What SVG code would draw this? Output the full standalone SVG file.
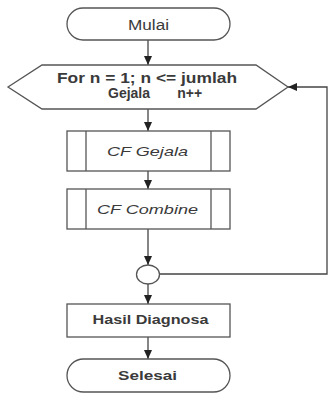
<svg xmlns="http://www.w3.org/2000/svg" width="330" height="394" viewBox="0 0 330 394">
<style>
.shape{fill:#fff;stroke:#555;stroke-width:1.3}
.conn{fill:none;stroke:#444;stroke-width:1.3}
text{font-family:"Liberation Sans",Arial,sans-serif;font-size:13px;fill:#3a3a3a}
.b{font-weight:bold}
.i{font-style:italic}
</style>
<defs>
<marker id="arr" markerWidth="10" markerHeight="10" refX="9" refY="5" orient="auto" markerUnits="userSpaceOnUse">
<path d="M0,1 L9,5 L0,9 Z" fill="#222"/>
</marker>
</defs>
<rect width="330" height="394" fill="#fff"/>
<g id="connectors">
<line class="conn" x1="148" y1="40" x2="148" y2="65" marker-end="url(#arr)"/>
<line class="conn" x1="148" y1="109" x2="148" y2="131" marker-end="url(#arr)"/>
<line class="conn" x1="148" y1="171" x2="148" y2="189" marker-end="url(#arr)"/>
<line class="conn" x1="148" y1="229" x2="148" y2="265" marker-end="url(#arr)"/>
<line class="conn" x1="148" y1="284" x2="148" y2="304" marker-end="url(#arr)"/>
<line class="conn" x1="148" y1="337" x2="148" y2="359" marker-end="url(#arr)"/>
<polyline class="conn" points="159.5,274 327,274 327,87 288,87" marker-end="url(#arr)"/>
</g>
<g id="mulai">
<rect class="shape" x="67" y="8" width="163" height="32" rx="16" ry="16"/>
<text x="148.5" y="30" text-anchor="middle" style="font-size:14px" textLength="41" lengthAdjust="spacingAndGlyphs">Mulai</text>
</g>
<g id="loop">
<polygon class="shape" points="8,87 42,65 256,65 288,87 256,109 42,109"/>
<text class="b" x="147" y="83" text-anchor="middle" style="font-size:14px" textLength="180" lengthAdjust="spacingAndGlyphs">For n = 1; n &lt;= jumlah</text>
<text class="b" x="108" y="98" style="font-size:14px" xml:space="preserve">Gejala       n++</text>
</g>
<g id="cf-gejala">
<rect class="shape" x="67" y="131" width="163" height="40"/>
<line class="shape" x1="86" y1="131" x2="86" y2="171"/>
<line class="shape" x1="211" y1="131" x2="211" y2="171"/>
<text class="i" x="147.5" y="156" text-anchor="middle" style="font-size:13.5px" textLength="81" lengthAdjust="spacingAndGlyphs">CF Gejala</text>
</g>
<g id="cf-combine">
<rect class="shape" x="67" y="189" width="163" height="40"/>
<line class="shape" x1="86" y1="189" x2="86" y2="229"/>
<line class="shape" x1="211" y1="189" x2="211" y2="229"/>
<text class="i" x="147.5" y="214" text-anchor="middle" style="font-size:13.5px" textLength="101" lengthAdjust="spacingAndGlyphs">CF Combine</text>
</g>
<g id="connector-point">
<ellipse class="shape" cx="148" cy="274.5" rx="11.5" ry="9.5"/>
</g>
<g id="hasil">
<rect class="shape" x="67" y="304" width="163" height="33"/>
<text class="b" x="150.5" y="324" text-anchor="middle" textLength="116" lengthAdjust="spacingAndGlyphs">Hasil Diagnosa</text>
</g>
<g id="selesai">
<rect class="shape" x="67" y="359" width="163" height="33" rx="16.5" ry="16.5"/>
<text class="b" x="147.5" y="380" text-anchor="middle" textLength="59" lengthAdjust="spacingAndGlyphs">Selesai</text>
</g>
</svg>
